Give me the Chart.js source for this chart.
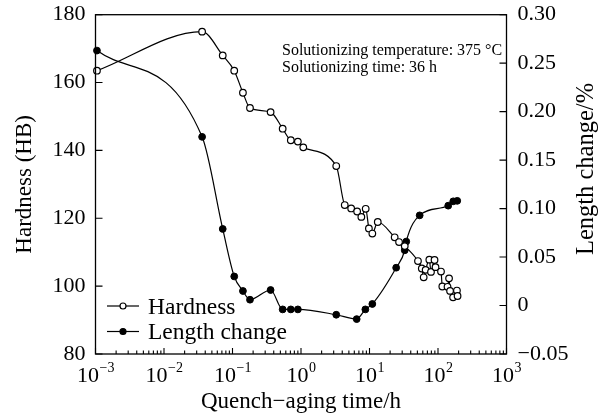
<!DOCTYPE html>
<html>
<head>
<meta charset="utf-8">
<script src="https://cdn.jsdelivr.net/npm/chart.js@4.4.0/dist/chart.umd.min.js"></script>
<style>
html, body { margin: 0; padding: 0; background: #fff; }
</style>
</head>
<body>
<canvas id="chart" width="606" height="416"></canvas>
<script>
// hardness curve (time in h, HB)
const hardTime = [0.00105, 0.036, 0.072, 0.106, 0.142, 0.18, 0.36, 0.54, 0.71, 0.9, 1.08,
  3.27, 4.35, 5.4, 6.6, 7.6, 8.8, 9.8, 11, 13.2, 23.3, 27, 32.7,
  51, 58, 61.8, 66, 74.7, 79, 89, 92, 110.6, 115.6, 137.7, 145, 150, 166, 189, 193];
const hardValue = [163.5, 175, 168, 163.5, 157, 152.5, 151.3, 146.4, 143, 142.6, 140.9,
  135.4, 123.9, 122.9, 122, 120.4, 122.8, 117, 115.5, 118.9, 114.4, 113, 111.8,
  107.4, 105.2, 102.6, 104.8, 107.8, 104.2, 107.7, 105.6, 104.3, 99.9, 99.8, 102.3, 98.6, 96.7, 98.7, 97.1];

// length change curve (time in h, %)
const lenTime = [0.00105, 0.036, 0.072, 0.106, 0.142, 0.18, 0.36, 0.54, 0.71, 0.9,
  3.27, 6.5, 8.7, 11, 24.5, 32.7, 34.4, 54, 141, 167, 191];
const lenValue = [0.263, 0.174, 0.079, 0.030, 0.015, 0.006, 0.016, -0.004, -0.004, -0.004,
  -0.0095, -0.014, -0.004, 0.0016, 0.039, 0.057, 0.066, 0.093, 0.103, 0.1075, 0.108];

const leftTicks = [80, 100, 120, 140, 160, 180];
const rightTicks = [-0.05, 0, 0.05, 0.10, 0.15, 0.20, 0.25, 0.30];
const xExponents = [-3, -2, -1, 0, 1, 2, 3];
const seriesNames = ['Hardness', 'Length change'];
const noteLines = ['Solutionizing temperature: 375 \u00B0C', 'Solutionizing time: 36 h'];
const rightTitle = 'Length change/%';

const serif = "'Liberation Serif', 'Times New Roman', serif";

function fmtRight(v) {
  if (Math.abs(v) < 1e-9) return '0';
  if (v < 0) return '\u2212' + Math.abs(v).toFixed(2);
  return v.toFixed(2);
}

const decorations = {
  id: 'decorations',
  afterDraw(chart) {
    const ctx = chart.ctx;
    const a = chart.chartArea;
    const xs = chart.scales.x, yl = chart.scales.y, yr = chart.scales.y2;
    ctx.save();
    ctx.strokeStyle = '#000';
    ctx.fillStyle = '#000';
    ctx.lineWidth = 1.3;
    ctx.strokeRect(a.left, a.top, a.right - a.left, a.bottom - a.top);

    // x ticks, inward, with minor ticks per decade
    ctx.lineWidth = 1.1;
    ctx.beginPath();
    for (let k = -3; k <= 3; k++) {
      for (let m = 1; m <= 9; m++) {
        if (k === 3 && m > 1) break;
        const px = xs.getPixelForValue(m * Math.pow(10, k));
        const len = m === 1 ? 6 : 3.5;
        ctx.moveTo(px, a.bottom);
        ctx.lineTo(px, a.bottom - len);
      }
    }
    leftTicks.forEach(v => {
      const py = yl.getPixelForValue(v);
      ctx.moveTo(a.left, py);
      ctx.lineTo(a.left + 7, py);
    });
    rightTicks.forEach(v => {
      const py = yr.getPixelForValue(v);
      ctx.moveTo(a.right, py);
      ctx.lineTo(a.right - 7, py);
    });
    ctx.stroke();

    // x tick labels 10^n
    ctx.textBaseline = 'alphabetic';
    ctx.textAlign = 'left';
    xExponents.forEach(e => {
      const px = xs.getPixelForValue(Math.pow(10, e));
      const base = '10';
      const sup = e < 0 ? '\u2212' + Math.abs(e) : String(e);
      ctx.font = '22px ' + serif;
      const wb = ctx.measureText(base).width;
      ctx.font = '14px ' + serif;
      const ws = ctx.measureText(sup).width;
      const x0 = px - (wb + ws) / 2;
      ctx.font = '22px ' + serif;
      ctx.fillText(base, x0, 382);
      ctx.font = '14px ' + serif;
      ctx.fillText(sup, x0 + wb + 0.5, 372);
    });

    // legend inside plot
    const items = [
      { y: 306, fill: '#fff', text: seriesNames[0], base: 313.5 },
      { y: 331.5, fill: '#000', text: seriesNames[1], base: 339 }
    ];
    items.forEach(it => {
      ctx.lineWidth = 1.2;
      ctx.beginPath();
      ctx.moveTo(107, it.y);
      ctx.lineTo(139, it.y);
      ctx.stroke();
      ctx.beginPath();
      ctx.arc(123, it.y, 3, 0, Math.PI * 2);
      ctx.fillStyle = it.fill;
      ctx.fill();
      ctx.stroke();
      ctx.fillStyle = '#000';
      ctx.font = '23.5px ' + serif;
      ctx.fillText(it.text, 148, it.base);
    });

    // note
    ctx.font = '16px ' + serif;
    ctx.fillText(noteLines[0], 282, 55);
    ctx.fillText(noteLines[1], 282, 72);

    // right axis title, reading bottom to top
    ctx.save();
    ctx.translate(587, 169);
    ctx.rotate(-Math.PI / 2);
    ctx.textAlign = 'center';
    ctx.textBaseline = 'middle';
    ctx.font = '24.5px ' + serif;
    ctx.fillText(rightTitle, 0, 0);
    ctx.restore();

    ctx.restore();
  }
};

const ctx = document.getElementById('chart').getContext('2d');
new Chart(ctx, {
  type: 'line',
  data: {
    datasets: [
      {
        label: seriesNames[0],
        data: hardTime.map((t, i) => ({ x: t, y: hardValue[i] })),
        yAxisID: 'y',
        borderColor: '#000',
        borderWidth: 1.2,
        pointRadius: 3.3,
        pointBackgroundColor: '#fff',
        pointBorderColor: '#000',
        pointBorderWidth: 1.2,
        cubicInterpolationMode: 'monotone',
        clip: false
      },
      {
        label: seriesNames[1],
        data: lenTime.map((t, i) => ({ x: t, y: lenValue[i] })),
        yAxisID: 'y2',
        borderColor: '#000',
        borderWidth: 1.2,
        pointRadius: 3.4,
        pointBackgroundColor: '#000',
        pointBorderColor: '#000',
        pointBorderWidth: 1,
        cubicInterpolationMode: 'monotone',
        clip: false
      }
    ]
  },
  options: {
    responsive: false,
    animation: false,
    devicePixelRatio: 1,
    layout: { padding: { top: 14.7, left: 0, right: 0, bottom: 0 } },
    plugins: { legend: { display: false }, tooltip: { enabled: false } },
    scales: {
      x: {
        type: 'logarithmic',
        position: 'bottom',
        min: 0.001,
        max: 1000,
        grid: { display: false, drawTicks: false },
        border: { display: false },
        ticks: { display: false },
        title: {
          display: true,
          text: 'Quench\u2212aging time/h',
          color: '#000',
          font: { family: serif, size: 23 },
          padding: { top: 0, bottom: 0 }
        },
        afterFit: s => { s.height = 62; s.paddingLeft = 0; s.paddingRight = 0; }
      },
      y: {
        position: 'left',
        min: 80,
        max: 180,
        afterBuildTicks: s => { s.ticks = leftTicks.map(v => ({ value: v })); },
        grid: { display: false, drawTicks: false },
        border: { display: false },
        ticks: { color: '#000', font: { family: serif, size: 22 }, padding: 10 },
        title: {
          display: true,
          text: 'Hardness (HB)',
          color: '#000',
          font: { family: serif, size: 23 },
          padding: { top: 11, bottom: 0 }
        },
        afterFit: s => { s.width = 95.5; s.paddingTop = 0; s.paddingBottom = 0; }
      },
      y2: {
        position: 'right',
        min: -0.05,
        max: 0.30,
        afterBuildTicks: s => { s.ticks = rightTicks.map(v => ({ value: v })); },
        grid: { display: false, drawTicks: false },
        border: { display: false },
        ticks: { color: '#000', font: { family: serif, size: 22 }, padding: 11, callback: v => fmtRight(v) },
        afterFit: s => { s.width = 99.5; s.paddingTop = 0; s.paddingBottom = 0; }
      }
    }
  },
  plugins: [decorations]
});
</script>
</body>
</html>
